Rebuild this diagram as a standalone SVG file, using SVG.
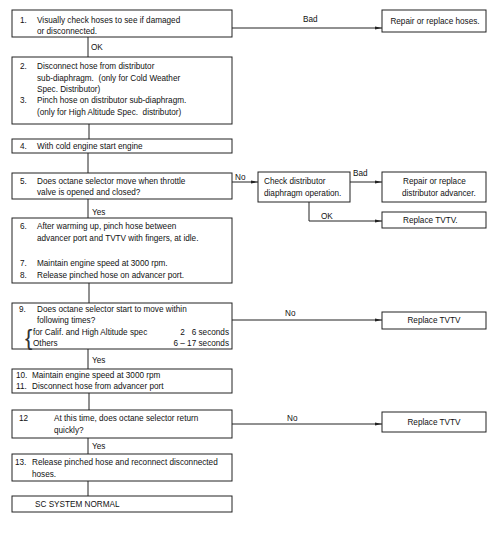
<svg xmlns="http://www.w3.org/2000/svg" width="497" height="533" viewBox="0 0 497 533">
<defs>
<marker id="arr" markerWidth="8" markerHeight="6" refX="7" refY="3" orient="auto" markerUnits="userSpaceOnUse">
<path d="M0,1.5 L7,3 L0,4.5 Z" fill="#222"/>
</marker>
<style>
.box{fill:#fff;stroke:#222;stroke-width:1}
.t{font-family:"Liberation Sans",Arial,sans-serif;font-size:8.2px;fill:#111;white-space:pre}
.ln{fill:none;stroke:#222;stroke-width:1}
.ar{fill:none;stroke:#222;stroke-width:1;marker-end:url(#arr)}
</style>
</defs>
<rect width="497" height="533" fill="#fff"/>
<g id="connectors">
<path class="ar" d="M232,28 H382"/>
<text class="t" x="303" y="22">Bad</text>
<path class="ln" d="M88,37 V57"/>
<text class="t" x="91" y="50">OK</text>
<path class="ln" d="M89,124 V139"/>
<path class="ln" d="M88,153 V173"/>
<path class="ar" d="M232,182 H258"/>
<text class="t" x="235" y="180">No</text>
<path class="ar" d="M350,182 H382"/>
<text class="t" x="353" y="176">Bad</text>
<path class="ar" d="M309,202 V221 H382"/>
<text class="t" x="321" y="219">OK</text>
<path class="ln" d="M88,199 V218"/>
<text class="t" x="92" y="215">Yes</text>
<path class="ln" d="M89,283 V303"/>
<path class="ar" d="M232,320 H382"/>
<text class="t" x="285" y="316">No</text>
<path class="ln" d="M88,349 V369"/>
<text class="t" x="92" y="363">Yes</text>
<path class="ln" d="M89,393 V410"/>
<path class="ar" d="M232,424 H382"/>
<text class="t" x="287" y="421">No</text>
<path class="ln" d="M88,438 V454"/>
<text class="t" x="92" y="449">Yes</text>
<path class="ln" d="M88,481 V496"/>
</g>
<g id="n1">
<rect class="box" x="12" y="10" width="220" height="27"/>
<text class="t" x="20" y="23">1.</text>
<text class="t" x="37" y="23">Visually check hoses to see if damaged</text>
<text class="t" x="37" y="34">or disconnected.</text>
</g>
<g id="n1b">
<rect class="box" x="382" y="10" width="104" height="22"/>
<text class="t" x="435" y="24" text-anchor="middle">Repair or replace hoses.</text>
</g>
<g id="n2">
<rect class="box" x="12" y="57" width="220" height="67"/>
<text class="t" x="20" y="69">2.</text>
<text class="t" x="37" y="69">Disconnect hose from distributor</text>
<text class="t" x="37" y="81">sub-diaphragm.  (only for Cold Weather</text>
<text class="t" x="37" y="92">Spec. Distributor)</text>
<text class="t" x="20" y="103">3.</text>
<text class="t" x="37" y="103">Pinch hose on distributor sub-diaphragm.</text>
<text class="t" x="37" y="115">(only for High Altitude Spec.  distributor)</text>
</g>
<g id="n4">
<rect class="box" x="12" y="139" width="220" height="14"/>
<text class="t" x="20" y="149">4.</text>
<text class="t" x="37" y="149">With cold engine start engine</text>
</g>
<g id="n5">
<rect class="box" x="12" y="173" width="220" height="26"/>
<text class="t" x="20" y="184">5.</text>
<text class="t" x="37" y="184">Does octane selector move when throttle</text>
<text class="t" x="37" y="195">valve is opened and closed?</text>
</g>
<g id="n5b">
<rect class="box" x="258" y="172" width="92" height="30"/>
<text class="t" x="264" y="184">Check distributor</text>
<text class="t" x="264" y="196">diaphragm operation.</text>
</g>
<g id="n5c">
<rect class="box" x="382" y="172" width="104" height="30"/>
<text class="t" x="403" y="184">Repair or replace</text>
<text class="t" x="402" y="196">distributor advancer.</text>
</g>
<g id="n5d">
<rect class="box" x="382" y="212" width="104" height="16"/>
<text class="t" x="403" y="223">Replace TVTV.</text>
</g>
<g id="n6">
<rect class="box" x="12" y="218" width="220" height="65"/>
<text class="t" x="20" y="229">6.</text>
<text class="t" x="37" y="229">After warming up, pinch hose between</text>
<text class="t" x="37" y="241">advancer port and TVTV with fingers, at idle.</text>
<text class="t" x="20" y="266">7.</text>
<text class="t" x="37" y="266">Maintain engine speed at 3000 rpm.</text>
<text class="t" x="20" y="278">8.</text>
<text class="t" x="37" y="278">Release pinched hose on advancer port.</text>
</g>
<g id="n9">
<rect class="box" x="12" y="303" width="220" height="46"/>
<text class="t" x="19" y="312">9.</text>
<text class="t" x="37" y="312">Does octane selector start to move within</text>
<text class="t" x="37" y="323">following times?</text>
<text class="t" x="25" y="345" style="font-size:22px;fill:#333">{</text>
<text class="t" x="33" y="335">for Calif. and High Altitude spec</text>
<text class="t" x="229" y="335" text-anchor="end">2   6 seconds</text>
<text class="t" x="33" y="346">Others</text>
<text class="t" x="229" y="346" text-anchor="end">6 – 17 seconds</text>
</g>
<g id="n9b">
<rect class="box" x="382" y="312" width="104" height="17"/>
<text class="t" x="434" y="323" text-anchor="middle">Replace TVTV</text>
</g>
<g id="n10">
<rect class="box" x="12" y="369" width="220" height="24"/>
<text class="t" x="16" y="378">10.</text>
<text class="t" x="32" y="378">Maintain engine speed at 3000 rpm</text>
<text class="t" x="16" y="389">11.</text>
<text class="t" x="32" y="389">Disconnect hose from advancer port</text>
</g>
<g id="n12">
<rect class="box" x="12" y="410" width="220" height="28"/>
<text class="t" x="19" y="421">12</text>
<text class="t" x="54" y="421">At this time, does octane selector return</text>
<text class="t" x="54" y="433">quickly?</text>
</g>
<g id="n12b">
<rect class="box" x="382" y="412" width="104" height="20"/>
<text class="t" x="434" y="425" text-anchor="middle">Replace TVTV</text>
</g>
<g id="n13">
<rect class="box" x="12" y="454" width="220" height="27"/>
<text class="t" x="15" y="465">13.</text>
<text class="t" x="32" y="465">Release pinched hose and reconnect disconnected</text>
<text class="t" x="32" y="477">hoses.</text>
</g>
<g id="n14">
<rect class="box" x="12" y="496" width="220" height="16"/>
<text class="t" x="35" y="507">SC SYSTEM NORMAL</text>
</g>
</svg>
